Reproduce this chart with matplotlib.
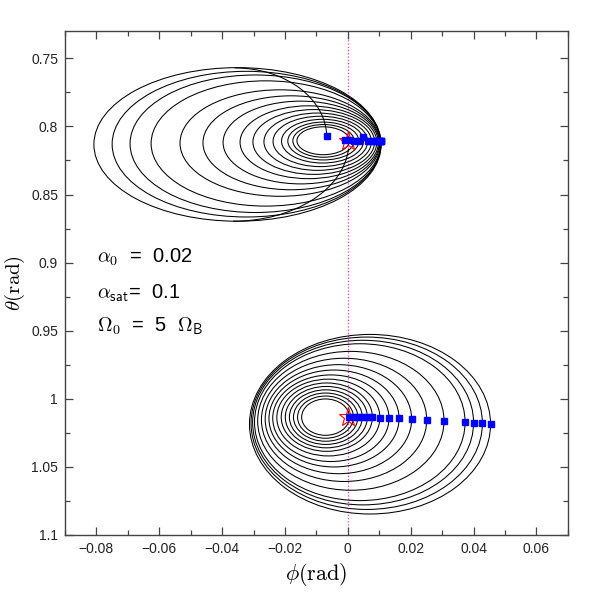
import matplotlib
matplotlib.use("Agg")
import matplotlib.pyplot as plt
from matplotlib.patches import Ellipse, Arc
from matplotlib.ticker import FixedLocator, MultipleLocator

plt.rcParams['font.family'] = ['Liberation Sans', 'DejaVu Sans']

# ---------- data ----------
# upper spiral: loops listed inner -> outer (left edge, right edge, height, centre y)
top_left = [-0.0162, -0.0175, -0.0191, -0.0211, -0.0238, -0.0267, -0.0302, -0.0343,
            -0.0397, -0.0461, -0.0534, -0.0626, -0.0693, -0.0750, -0.0808]
top_right = [0.0005, 0.0020, 0.0035, 0.0050, 0.0063, 0.0075, 0.0085, 0.0092,
             0.0097, 0.0100, 0.0102, 0.0104, 0.0105, 0.0105, 0.0106]
top_height = [0.0205, 0.0240, 0.0278, 0.0321, 0.0370, 0.0421, 0.0476, 0.0535,
              0.0608, 0.0690, 0.0782, 0.0920, 0.1010, 0.1070, 0.1128]
top_cy = [0.8105, 0.8106, 0.8107, 0.8108, 0.8110, 0.8112, 0.8114, 0.8116,
          0.8118, 0.8120, 0.8122, 0.8125, 0.8127, 0.8130, 0.8132]
# the two open ends of the upper trajectory (centre x, centre y, width, height, theta1, theta2)
top_arcs = [(-0.0360, 0.8080, 0.0586, 0.1020, 270, 360),
            (-0.0365, 0.8120, 0.0736, 0.1152, 7, 90)]
top_sq_x = [-0.0067, -0.0010, 0.0007, 0.0020, 0.0035, 0.0047, 0.0063, 0.0075,
            0.0085, 0.0092, 0.0097, 0.0100, 0.0102, 0.0104, 0.0105, 0.0106]
top_sq_y = [0.8068, 0.8100, 0.8103, 0.8104, 0.8105, 0.8078, 0.8106, 0.8106,
            0.8107, 0.8108, 0.8108, 0.8109, 0.8109, 0.8110, 0.8110, 0.8110]

# lower spiral: loops inner -> outer
bot_left = [-0.0147, -0.0160, -0.0173, -0.0186, -0.0199, -0.0212, -0.0226, -0.0239,
            -0.0251, -0.0263, -0.0275, -0.0287, -0.0297, -0.0303, -0.0308, -0.0313]
bot_right = [0.0005, 0.0018, 0.0032, 0.0046, 0.0062, 0.0078, 0.0102, 0.0131,
             0.0163, 0.0203, 0.0251, 0.0306, 0.0373, 0.0400, 0.0428, 0.0454]
bot_height = [0.0267, 0.0310, 0.0354, 0.0401, 0.0451, 0.0502, 0.0564, 0.0636,
              0.0712, 0.0801, 0.0905, 0.1020, 0.1152, 0.1209, 0.1266, 0.1319]
bot_cy = [1.0135, 1.0135, 1.0135, 1.0135, 1.0135, 1.0135, 1.0138, 1.0143,
          1.0145, 1.0150, 1.0155, 1.0162, 1.0172, 1.0175, 1.0180, 1.0187]

star_x = [0.0, 0.0]
star_y = [0.8110, 1.0135]

x_ticks = [-0.08, -0.06, -0.04, -0.02, 0.0, 0.02, 0.04, 0.06]
x_labels = ['\u22120.08', '\u22120.06', '\u22120.04', '\u22120.02', '0', '0.02', '0.04', '0.06']
y_ticks = [0.75, 0.8, 0.85, 0.9, 0.95, 1.0, 1.05, 1.1]
y_labels = ['0.75', '0.8', '0.85', '0.9', '0.95', '1', '1.05', '1.1']

# ---------- figure ----------
fig = plt.figure(figsize=(5.99, 5.99), dpi=100)
ax = fig.add_axes([0.1085, 0.107, 0.8395, 0.841])
ax.set_xlim(-0.09, 0.07)
ax.set_ylim(1.1, 0.73)

ax.axvline(0.0, color='#e040e0', lw=0.9, linestyle=(0, (1, 1.6)), zorder=1)

for left, right, h, cy in zip(top_left, top_right, top_height, top_cy):
    ax.add_patch(Ellipse(((left + right) / 2, cy), right - left, h,
                         fill=False, ec='black', lw=0.75))
for cx, cy, w, h, t1, t2 in top_arcs:
    ax.add_patch(Arc((cx, cy), w, h, theta1=t1, theta2=t2, ec='black', lw=0.75))
for left, right, h, cy in zip(bot_left, bot_right, bot_height, bot_cy):
    ax.add_patch(Ellipse(((left + right) / 2, cy), right - left, h,
                         fill=False, ec='black', lw=0.75))

ax.plot(star_x, star_y, ls='none', marker='*', ms=14, mfc='none', mec='red', mew=0.8, zorder=3)
ax.plot(top_sq_x, top_sq_y, ls='none', marker='s', ms=4.8, color='#0000ff', zorder=4)
ax.plot(bot_right, bot_cy, ls='none', marker='s', ms=4.8, color='#0000ff', zorder=4)

# parameter text
txt = dict(fontsize=14.5, va='center', math_fontfamily='cm')
ax.text(-0.0798, 0.8963, r'$\alpha_\mathsf{0}$  =  0.02', **txt)
ax.text(-0.0798, 0.9223, r'$\alpha_\mathsf{sat}$=  0.1', **txt)
ax.text(-0.0798, 0.9468, r'$\Omega_\mathsf{0}$  =  5  $\Omega_\mathsf{B}$', **txt)

# axes styling
ax.xaxis.set_major_locator(FixedLocator(x_ticks))
ax.xaxis.set_minor_locator(MultipleLocator(0.01))
ax.set_xticklabels(x_labels)
ax.yaxis.set_major_locator(FixedLocator(y_ticks))
ax.yaxis.set_minor_locator(MultipleLocator(0.025))
ax.set_yticklabels(y_labels)
ax.tick_params(which='both', direction='in', top=True, right=True,
               color='#444444', labelsize=10, labelcolor='#222222')
ax.tick_params(which='major', length=6, width=0.9, pad=5)
ax.tick_params(which='minor', length=3.6, width=0.9)
for sp in ax.spines.values():
    sp.set_color('#444444')
    sp.set_linewidth(1.0)

ax.set_xlabel(r'$\phi(\mathrm{rad})$', fontsize=16, math_fontfamily='cm', labelpad=4)
ax.set_ylabel(r'$\theta(\mathrm{rad})$', fontsize=15, math_fontfamily='cm')
ax.yaxis.set_label_coords(-0.076, 0.5)

fig.savefig('out.png', dpi=100)
